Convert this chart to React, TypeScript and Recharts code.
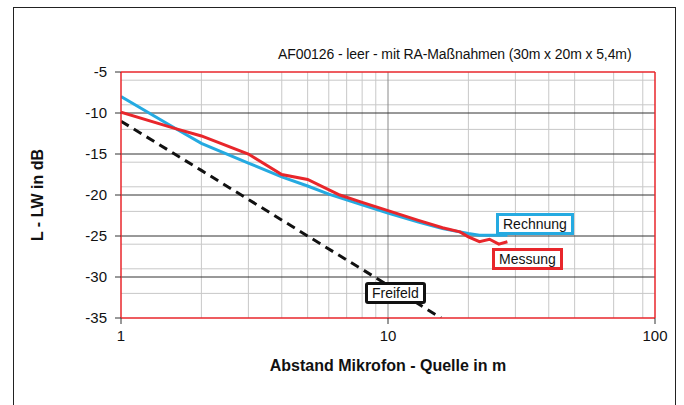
import React from 'react';
import { LineChart, Line, XAxis, YAxis, CartesianGrid, ReferenceLine, Label } from 'recharts';

// values (distance in m, L - LW in dB)
const rechnung = [
    { x: 1, y: -8 },
    { x: 1.6, y: -11.9 },
    { x: 2, y: -13.7 },
    { x: 3, y: -16.1 },
    { x: 4, y: -17.8 },
    { x: 5, y: -18.9 },
    { x: 6, y: -19.9 },
    { x: 8, y: -21.2 },
    { x: 10, y: -22.2 },
    { x: 13, y: -23.3 },
    { x: 16, y: -24.1 },
    { x: 20, y: -24.7 },
    { x: 22, y: -24.9 },
    { x: 28, y: -24.9 },
];

const messung = [
    { x: 1, y: -9.9 },
    { x: 1.6, y: -11.9 },
    { x: 2, y: -12.8 },
    { x: 3, y: -15.0 },
    { x: 4, y: -17.5 },
    { x: 5, y: -18.1 },
    { x: 6.6, y: -20.0 },
    { x: 8, y: -20.9 },
    { x: 10, y: -21.9 },
    { x: 13, y: -23.1 },
    { x: 16, y: -24.0 },
    { x: 18.6, y: -24.5 },
    { x: 20, y: -25.1 },
    { x: 22, y: -25.7 },
    { x: 24, y: -25.4 },
    { x: 26, y: -26.0 },
    { x: 28, y: -25.7 },
];

const freifeld = [
    { x: 1, y: -11 },
    { x: 2, y: -17 },
    { x: 5, y: -25 },
    { x: 10, y: -31 },
    { x: 15.8, y: -35 },
];

const xTicks = [1, 10, 100];
const yTicks = [-35, -30, -25, -20, -15, -10, -5];

// grid positions
const xMinor = [2, 3, 4, 5, 6, 7, 8, 9, 20, 30, 40, 50, 60, 70, 80, 90];
const xMajor = [10];
const yMinor: number[] = [];
for (let v = -34; v < -5; v++) {
    if (v % 5 !== 0) yMinor.push(v);
}
const yMajor = [-30, -25, -20, -15, -10];

const font = '"Liberation Sans", Arial, sans-serif';

const boxStyle = (color: string): React.CSSProperties => ({
    position: 'absolute',
    background: 'white',
    border: `3px solid ${color}`,
    fontFamily: font,
    fontSize: 14,
    lineHeight: '14px',
    padding: '1px 4px',
    color: '#111',
});

const App = () => {
    return (
        <div style={{ position: 'absolute', left: 0, top: 0, width: 684, height: 405, background: 'white', overflow: 'hidden' }}>
            <div style={{ position: 'absolute', left: 13, top: 7, width: 661, height: 420, border: '1px solid #222' }} />
            <div style={{ position: 'absolute', left: 0, top: 0 }}>
                <LineChart width={684} height={405} margin={{ top: 72, right: 29, bottom: 0, left: 0 }}>
                    <CartesianGrid stroke="#c8c8c8" horizontalValues={yMinor} verticalValues={xMinor} />
                    <CartesianGrid stroke="#8a8a8a" horizontal={false} verticalValues={xMajor} />
                    <CartesianGrid stroke="#333" vertical={false} horizontalValues={yMajor} />
                    <XAxis
                        type="number"
                        dataKey="x"
                        scale="log"
                        domain={[1, 100]}
                        ticks={xTicks}
                        allowDataOverflow
                        height={87}
                        axisLine={{ stroke: '#e8262b', strokeWidth: 1.5 }}
                        tickLine={{ stroke: '#333' }}
                        tickSize={6}
                        tickMargin={6}
                        tick={{ fill: '#111', fontSize: 15, fontFamily: font }}
                    >
                        <Label
                            value="Abstand Mikrofon - Quelle in m"
                            position="insideTop"
                            offset={42}
                            style={{ fill: '#111', fontSize: 16, fontWeight: 'bold', fontFamily: font }}
                        />
                    </XAxis>
                    <YAxis
                        type="number"
                        domain={[-35, -5]}
                        ticks={yTicks}
                        allowDataOverflow
                        width={121}
                        axisLine={{ stroke: '#e8262b', strokeWidth: 1.5 }}
                        tickLine={{ stroke: '#333' }}
                        tickSize={6}
                        tickMargin={8}
                        tick={{ fill: '#111', fontSize: 15, fontFamily: font }}
                    >
                        <Label
                            value="L - LW in dB"
                            angle={-90}
                            position="insideLeft"
                            offset={37}
                            style={{ textAnchor: 'middle', fill: '#111', fontSize: 16, fontWeight: 'bold', fontFamily: font }}
                        />
                    </YAxis>
                    <ReferenceLine y={-5} stroke="#e8262b" strokeWidth={1.5} />
                    <ReferenceLine x={100} stroke="#e8262b" strokeWidth={1.5} />
                    <Line data={freifeld} dataKey="y" stroke="#111" strokeWidth={3} strokeDasharray="9 6" dot={false} isAnimationActive={false} />
                    <Line data={rechnung} dataKey="y" stroke="#25aae1" strokeWidth={3} dot={false} isAnimationActive={false} />
                    <Line data={messung} dataKey="y" stroke="#e8262b" strokeWidth={3} dot={false} isAnimationActive={false} />
                </LineChart>
            </div>
            <div style={{ position: 'absolute', left: 278, top: 46, fontFamily: font, fontSize: 14, color: '#111', whiteSpace: 'nowrap', letterSpacing: -0.1 }}>
                AF00126 - leer - mit RA-Maßnahmen (30m x 20m x 5,4m)
            </div>
            <div style={{ ...boxStyle('#25aae1'), left: 496, top: 213 }}>Rechnung</div>
            <div style={{ ...boxStyle('#e8262b'), left: 492, top: 248 }}>Messung</div>
            <div style={{ ...boxStyle('#111'), left: 365, top: 282, borderRadius: 3 }}>Freifeld</div>
        </div>
    );
};

export default App;
